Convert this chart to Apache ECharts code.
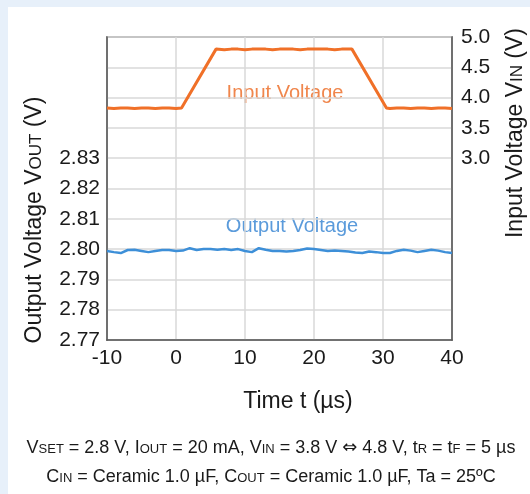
<!DOCTYPE html>
<html>
<head>
<meta charset="utf-8">
<script src="https://cdn.jsdelivr.net/npm/echarts@6/dist/echarts.min.js"></script>
<style>
  html, body { margin: 0; padding: 0; }
  #frame { position: relative; width: 530px; height: 494px; background: #e7f0fa; overflow: hidden; }
  #chart { position: absolute; left: 8px; top: 7px; width: 522px; height: 487px; background: #ffffff; }
</style>
</head>
<body>
<div id="frame"><div id="chart"></div></div>
<script>
// Input voltage (right axis), straight ramps so only corners are listed
const inTime = [-10, -9, -8, -7, -6, -5, -4, -3, -2, -1, 0, 0.8,
  5.8, 6, 7, 8, 9, 10, 11, 12, 13, 14, 15, 16, 17, 18, 19, 20, 21, 22, 23, 24, 25, 25.5,
  30.5, 31, 32, 33, 34, 35, 36, 37, 38, 39, 40];
const inVolt = [3.83, 3.82, 3.83, 3.83, 3.82, 3.83, 3.83, 3.82, 3.83, 3.83, 3.82, 3.83,
  4.80, 4.80, 4.79, 4.80, 4.80, 4.79, 4.80, 4.80, 4.80, 4.79, 4.80, 4.80, 4.80, 4.79, 4.80, 4.80, 4.80, 4.80, 4.79, 4.80, 4.80, 4.80,
  3.83, 3.82, 3.83, 3.83, 3.82, 3.83, 3.83, 3.82, 3.83, 3.83, 3.82];

// Output voltage (left axis)
const outTime = [-10, -9, -8, -7, -6, -5, -4, -3, -2, -1, 0, 1, 2, 3, 4, 5, 6, 7, 8, 9,
  10, 11, 12, 13, 14, 15, 16, 17, 18, 19, 20, 21, 22, 23, 24, 25, 26, 27, 28, 29,
  30, 31, 32, 33, 34, 35, 36, 37, 38, 39, 40];
const outVolt = [2.7994, 2.7990, 2.7987, 2.7997, 2.7998, 2.7994, 2.7990, 2.7994, 2.7997, 2.7997,
  2.7994, 2.7995, 2.8003, 2.7997, 2.8000, 2.8000, 2.7998, 2.8000, 2.7997, 2.8000,
  2.7994, 2.7990, 2.8003, 2.7998, 2.7994, 2.7994, 2.7992, 2.7994, 2.7997, 2.8002,
  2.8000, 2.7997, 2.7994, 2.7995, 2.7994, 2.7992, 2.7989, 2.7987, 2.7992, 2.7990,
  2.7987, 2.7987, 2.7994, 2.7998, 2.7995, 2.7990, 2.7994, 2.7998, 2.7995, 2.7990, 2.7987];

const FONT = 'Arial, "Liberation Sans", sans-serif';
const INK = '#1a1a1a';
const ORANGE = '#f07028';
const BLUE = '#3d8fd8';

const chart = echarts.init(document.getElementById('chart'));

// small-caps style pieces (VOUT, VIN, ...)
const subName = { fontSize: 17, fontFamily: FONT, fill: INK, verticalAlign: 'bottom', padding: [0, 0, 2, 0] };
const subNote = { fontSize: 13, fontFamily: FONT, fill: INK, verticalAlign: 'bottom', padding: [0, 0, 1, 0] };
const arrow = { fontSize: 18, fontFamily: '"DejaVu Sans"', fill: INK };

chart.setOption({
  animation: false,
  grid: {
    left: 99, top: 30, right: 78, bottom: 154,
    show: true, borderColor: '#666', borderWidth: 1.5
  },
  xAxis: {
    type: 'value', min: -10, max: 40, interval: 10,
    axisLine: { onZero: false, lineStyle: { color: '#555', width: 1.5 } },
    axisTick: { show: false },
    axisLabel: { color: INK, fontSize: 21, fontFamily: FONT, margin: 8 },
    splitLine: { lineStyle: { color: '#d8d8d8', width: 1.5 } }
  },
  yAxis: [
    {
      type: 'value', min: 2.77, max: 2.87, interval: 0.01,
      axisLine: { show: true, onZero: false, lineStyle: { color: '#555', width: 1.5 } },
      axisTick: { show: false },
      axisLabel: {
        color: INK, fontSize: 21, fontFamily: FONT, margin: 7,
        formatter: v => (v <= 2.8301 ? v.toFixed(2) : '')
      },
      splitLine: { lineStyle: { color: '#d8d8d8', width: 1.5 } }
    },
    {
      type: 'value', min: 0, max: 5, interval: 0.5, position: 'right',
      axisLine: { show: true, onZero: false, lineStyle: { color: '#555', width: 1.5 } },
      axisTick: { show: false },
      axisLabel: {
        color: INK, fontSize: 21, fontFamily: FONT, margin: 9,
        formatter: v => (v >= 2.99 ? v.toFixed(1) : '')
      },
      splitLine: { show: false }
    }
  ],
  series: [
    {
      name: 'Input Voltage', type: 'line', yAxisIndex: 1, showSymbol: false,
      data: inTime.map((t, i) => [t, inVolt[i]]),
      lineStyle: { color: ORANGE, width: 3 }
    },
    {
      name: 'Output Voltage', type: 'line', yAxisIndex: 0, showSymbol: false,
      data: outTime.map((t, i) => [t, outVolt[i]]),
      lineStyle: { color: BLUE, width: 2.5 }
    }
  ],
  graphic: [
    {
      type: 'text', x: 277, y: 86,
      style: { text: 'Input Voltage', font: '20px ' + FONT, fill: '#f0864c', align: 'center', verticalAlign: 'middle' }
    },
    {
      type: 'text', x: 284, y: 219,
      style: { text: 'Output Voltage', font: '20px ' + FONT, fill: '#5b9bdb', align: 'center', verticalAlign: 'middle' }
    },
    {
      type: 'text', x: 27, y: 213, rotation: Math.PI / 2,
      style: {
        text: 'Output Voltage V{s|OUT} (V)', font: '23px ' + FONT, fill: INK,
        align: 'center', verticalAlign: 'middle', rich: { s: subName }
      }
    },
    {
      type: 'text', x: 508, y: 126, rotation: Math.PI / 2,
      style: {
        text: 'Input Voltage V{s|IN} (V)', font: '23px ' + FONT, fill: INK,
        align: 'center', verticalAlign: 'middle', rich: { s: subName }
      }
    },
    {
      type: 'text', x: 290, y: 395,
      style: { text: 'Time t (µs)', font: '23px ' + FONT, fill: INK, align: 'center', verticalAlign: 'middle' }
    },
    {
      type: 'text', x: 263, y: 441,
      style: {
        text: 'V{s|SET} = 2.8 V, I{s|OUT} = 20 mA, V{s|IN} = 3.8 V {a|⇔} 4.8 V, t{s|R} = t{s|F} = 5 µs',
        font: '18px ' + FONT, fill: INK, align: 'center', verticalAlign: 'middle',
        rich: { s: subNote, a: arrow }
      }
    },
    {
      type: 'text', x: 263, y: 470,
      style: {
        text: 'C{s|IN} = Ceramic 1.0 µF, C{s|OUT} = Ceramic 1.0 µF, Ta = 25ºC',
        font: '18px ' + FONT, fill: INK, align: 'center', verticalAlign: 'middle',
        rich: { s: subNote }
      }
    }
  ]
});
</script>
</body>
</html>
